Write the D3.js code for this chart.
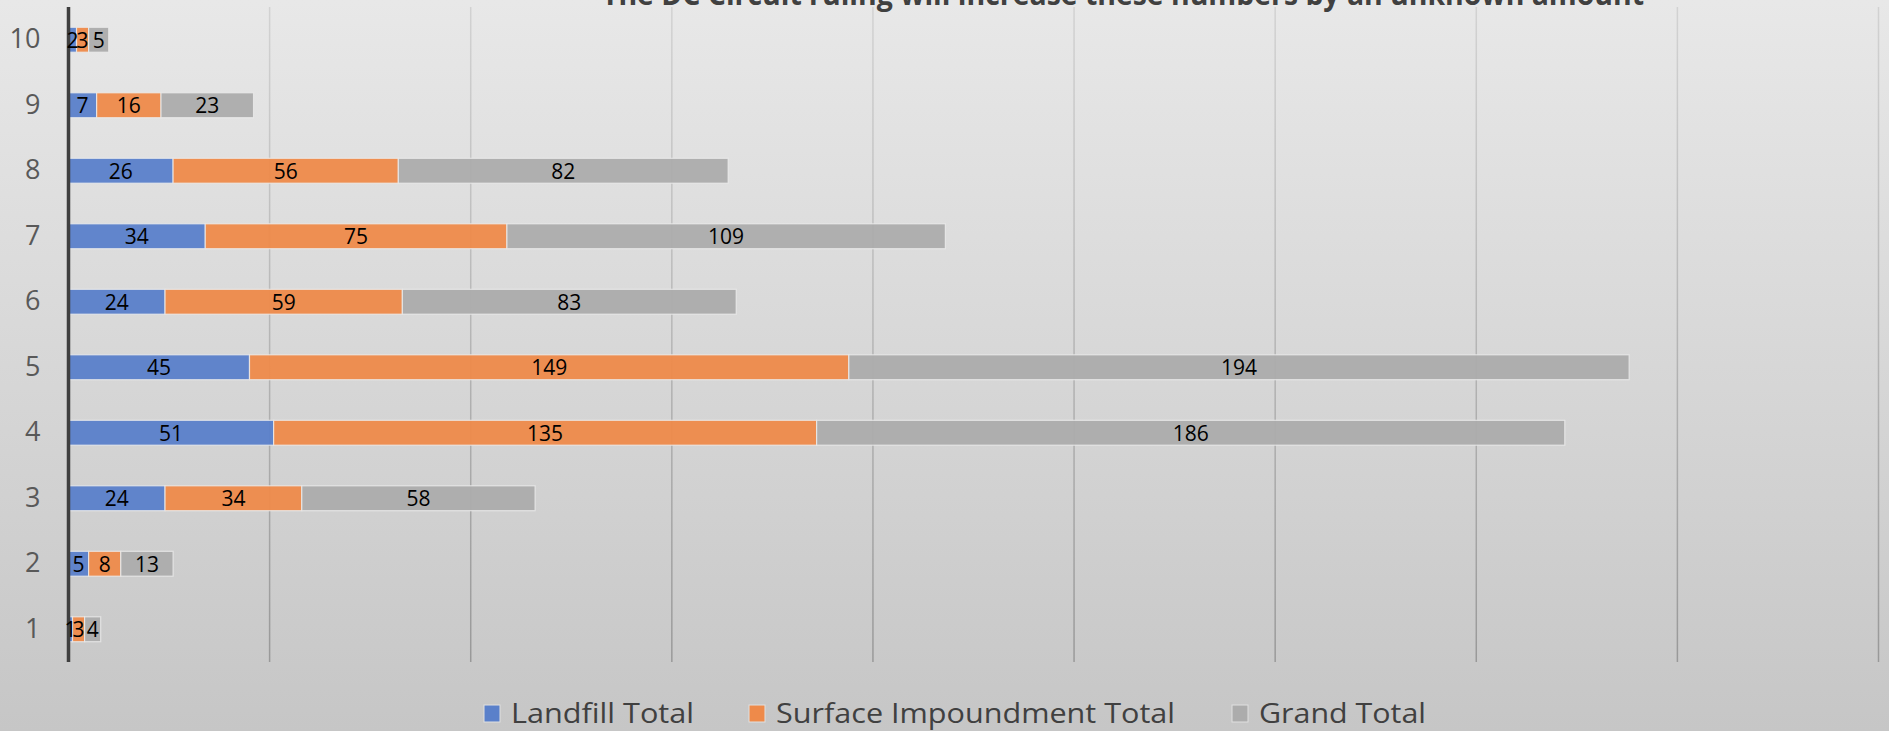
<!DOCTYPE html>
<html>
<head>
<meta charset="utf-8">
<script src="https://cdn.jsdelivr.net/npm/d3@7"></script>
<style>
  html, body { margin: 0; padding: 0; overflow: hidden; }
  body { font-family: "Open Sans", "Liberation Sans", sans-serif; }
</style>
</head>
<body>
<div class="chart"></div>
<script>
const categories = ['1', '2', '3', '4', '5', '6', '7', '8', '9', '10'];
const landfill = [1, 5, 24, 51, 45, 24, 34, 26, 7, 2];
const surface = [3, 8, 34, 135, 149, 59, 75, 56, 16, 3];
const grand = [4, 13, 58, 186, 194, 83, 109, 82, 23, 5];
const seriesNames = ['Landfill Total', 'Surface Impoundment Total', 'Grand Total'];
const colors = ['#5a80ca', '#ee8a4a', '#acacac'];
const xTicks = [0, 50, 100, 150, 200, 250, 300, 350, 400, 450];
const title = 'The DC Circuit ruling will increase these numbers by an unknown amount';

const width = 1889;
const height = 731;
const plotLeft = 68.5;
const plotRight = 1878.5;
const plotTop = 7;
const plotBottom = 662;

const svg = d3.select('.chart')
  .append('svg')
  .attr('width', width)
  .attr('height', height);

const defs = svg.append('defs');
const bg = defs.append('linearGradient')
  .attr('id', 'bg')
  .attr('x1', 0).attr('y1', 0).attr('x2', 0).attr('y2', 1);
bg.append('stop').attr('offset', '0%').attr('stop-color', '#e8e8e8');
bg.append('stop').attr('offset', '100%').attr('stop-color', '#c6c6c6');

const gridGrad = defs.append('linearGradient')
  .attr('id', 'grid')
  .attr('gradientUnits', 'userSpaceOnUse')
  .attr('x1', 0).attr('y1', plotTop).attr('x2', 0).attr('y2', plotBottom);
gridGrad.append('stop').attr('offset', '0%').attr('stop-color', '#d2d2d2');
gridGrad.append('stop').attr('offset', '100%').attr('stop-color', '#999999');

svg.append('rect')
  .attr('width', width)
  .attr('height', height)
  .attr('fill', 'url(#bg)');

const rows = categories.map((c, i) => ({
  cat: c,
  'Landfill Total': landfill[i],
  'Surface Impoundment Total': surface[i],
  'Grand Total': grand[i]
}));

const stacked = d3.stack().keys(seriesNames)(rows);

const xScale = d3.scaleLinear()
  .domain([0, d3.max(xTicks)])
  .range([plotLeft, plotRight]);

const yScale = d3.scaleBand()
  .domain(categories.slice().reverse())
  .range([plotTop, plotBottom])
  .paddingInner(0.62)
  .paddingOuter(0.31);

// gridlines
svg.append('g')
  .selectAll('line')
  .data(xTicks.slice(1))
  .enter()
  .append('line')
  .attr('x1', d => xScale(d))
  .attr('x2', d => xScale(d))
  .attr('y1', plotTop)
  .attr('y2', plotBottom)
  .attr('stroke', 'url(#grid)')
  .attr('stroke-width', 1.5);

// bars
const groups = svg.append('g')
  .selectAll('g')
  .data(stacked)
  .enter()
  .append('g')
  .attr('fill', (d, i) => colors[i]);

groups.selectAll('rect')
  .data(d => d)
  .enter()
  .append('rect')
  .attr('x', d => xScale(d[0]))
  .attr('y', d => yScale(d.data.cat))
  .attr('width', d => xScale(d[1]) - xScale(d[0]))
  .attr('height', yScale.bandwidth())
  .attr('fill-opacity', 0.95)
  .attr('stroke', '#ececec')
  .attr('stroke-opacity', 0.8)
  .attr('stroke-width', 1.2);

// category axis
const yAxis = d3.axisLeft(yScale).tickSize(0).tickPadding(28);
const yG = svg.append('g')
  .attr('transform', `translate(${plotLeft}, 0)`)
  .call(yAxis);
yG.select('.domain').remove();
yG.selectAll('text')
  .attr('font-size', 27)
  .attr('font-family', '"Open Sans", sans-serif')
  .attr('fill', '#595959');

svg.append('line')
  .attr('x1', plotLeft).attr('x2', plotLeft)
  .attr('y1', plotTop).attr('y2', plotBottom)
  .attr('stroke', '#3f3f3f')
  .attr('stroke-width', 3.5);

// data labels (drawn over the axis line, as in the original)
svg.append('g')
  .selectAll('g')
  .data(stacked)
  .enter()
  .append('g')
  .selectAll('text')
  .data(d => d.map(p => ({ p: p, v: p[1] - p[0] })))
  .enter()
  .append('text')
  .attr('x', d => (xScale(d.p[0]) + xScale(d.p[1])) / 2)
  .attr('y', d => yScale(d.p.data.cat) + yScale.bandwidth() / 2)
  .attr('dy', '0.37em')
  .attr('text-anchor', 'middle')
  .attr('fill', '#000')
  .attr('font-size', 21)
  .text(d => d.v);

// title, cut off at the top
svg.append('text')
  .attr('x', 1123)
  .attr('y', 5)
  .attr('text-anchor', 'middle')
  .attr('font-size', 30)
  .attr('font-weight', 'bold')
  .attr('fill', '#404040')
  .attr('textLength', 1042)
  .attr('lengthAdjust', 'spacingAndGlyphs')
  .text(title);

// legend
const legendX = [484, 749, 1232];
const legendW = [183, 399, 167];
const legend = svg.append('g')
  .selectAll('g')
  .data(seriesNames)
  .enter()
  .append('g')
  .attr('transform', (d, i) => `translate(${legendX[i]}, 705)`);

legend.append('rect')
  .attr('width', 16)
  .attr('height', 17)
  .attr('fill', (d, i) => colors[i])
  .attr('stroke', '#e0e0e0')
  .attr('stroke-width', 1);

legend.append('text')
  .attr('x', 27)
  .attr('y', 18)
  .attr('font-size', 28)
  .attr('fill', '#404040')
  .attr('textLength', (d, i) => legendW[i])
  .attr('lengthAdjust', 'spacingAndGlyphs')
  .text(d => d);
</script>
</body>
</html>
